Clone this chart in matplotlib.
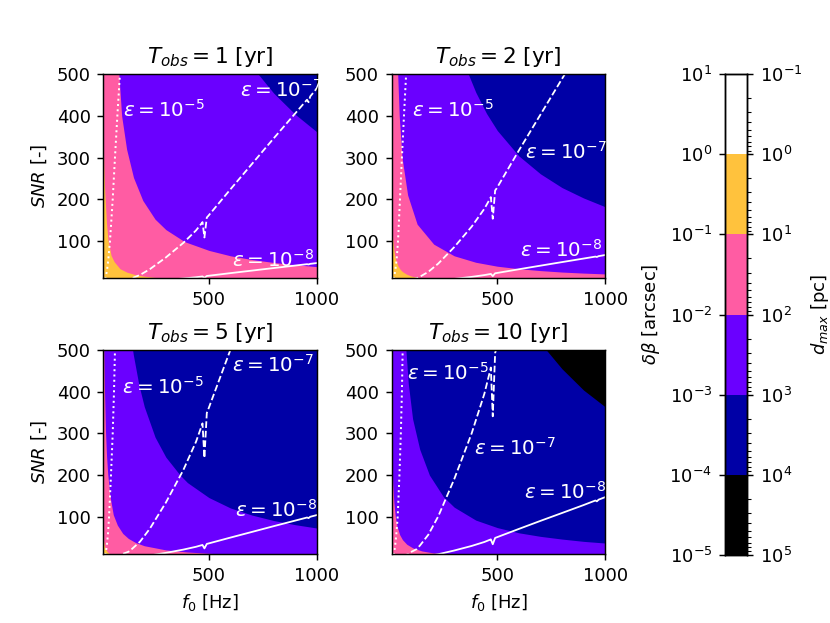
import matplotlib
matplotlib.use('Agg')
import matplotlib.pyplot as plt
from matplotlib.ticker import NullLocator, NullFormatter
import numpy as np

plt.rcParams['font.size'] = 10

# observation times of the four panels [yr]
T_obs = [1, 2, 5, 10]

# delta beta contour levels [arcsec] and the band colours (gnuplot2-like)
levels = [1e-5, 1e-4, 1e-3, 1e-2, 1e-1, 1e0, 1e1]
level_colors = ['#000000', '#0000a6', '#6a00ff', '#ff5ca3', '#ffc23d', '#ffffff']

# region boundaries (f0 [Hz], SNR)
# T = 1 yr
p1_b1_f = [10, 12, 15, 19, 25, 32, 46, 60, 87, 120, 160, 200, 250, 300, 400, 1000]
p1_b1_snr = [330, 280, 235, 195, 140, 100, 65, 50, 33, 24.5, 18.5, 15, 12, 10, 7.5, 3]
p1_b2_f = [76, 82, 95, 118, 150, 193, 250, 300, 387, 500, 600, 700, 800, 900, 1000]
p1_b2_snr = [530, 500, 400, 320, 252, 197, 152, 127, 98, 77, 64, 55, 48, 42.5, 38]
p1_b3_f = [700, 729, 800, 900, 1000]
p1_b3_snr = [520, 500, 455, 404, 362]

# T = 2 yr
p2_b1_f = [10, 12, 15, 20, 25, 30, 40, 50, 60, 80, 100, 130, 160, 300, 1000]
p2_b1_snr = [155, 130, 103, 78, 62, 52, 39, 31, 26, 19.5, 15.5, 12, 9.7, 5.2, 1.6]
p2_b2_f = [34, 38, 45, 58, 84, 128, 205, 300, 400, 500, 600, 700, 800, 900, 1000]
p2_b2_snr = [530, 500, 400, 300, 210, 140, 92, 64, 48.5, 39, 33, 28.5, 25, 22.5, 20.5]
p2_b3_f = [350, 366, 400, 450, 500, 600, 700, 800, 900, 1000]
p2_b3_snr = [523, 500, 457, 406, 365, 304, 261, 228, 203, 182]

# T = 5 yr
p3_b1_f = [10, 15, 20, 27, 35, 45, 1000]
p3_b1_snr = [45, 30, 22.5, 16.7, 12.9, 10, 0.45]
p3_b2_f = [10, 12, 15, 20, 25, 30, 40, 56, 75, 100, 126, 160, 200, 300, 400, 500, 600, 1000]
p3_b2_snr = [620, 510, 410, 305, 245, 205, 152, 105, 80, 60, 48, 38, 30.5, 20.5, 15.5, 12.3, 10.2, 6.2]
p3_b3_f = [140, 149, 175, 200, 250, 300, 366, 400, 500, 600, 700, 800, 900, 1000]
p3_b3_snr = [520, 489, 416, 364, 291, 243, 200, 182, 146, 121, 104, 91, 81, 73]

# T = 10 yr
p4_b1_f = [10, 15, 20, 30, 1000]
p4_b1_snr = [20, 13.3, 10, 6.7, 0.2]
p4_b2_f = [10, 12, 15, 20, 27, 35, 47, 60, 80, 109, 150, 200, 270, 400, 1000]
p4_b2_snr = [270, 225, 180, 135, 100, 77, 57, 45, 34, 25, 18, 13.5, 10, 6.7, 2.7]
p4_b3_f = [72, 76, 87, 107, 140, 185, 250, 300, 400, 500, 600, 700, 800, 900, 1000]
p4_b3_snr = [530, 500, 420, 335, 262, 200, 148, 123, 92, 74, 61.5, 53, 46.5, 41, 37]
p4_b4_f = [700, 729, 800, 900, 1000]
p4_b4_snr = [520, 499, 455, 404, 364]

# epsilon = 1e-5 curves (dotted)
p1_e5_f = [19, 22, 27, 33, 41, 53.5, 64, 75, 87, 89]
p1_e5_snr = [8, 16, 28, 55, 100, 200, 300, 400, 500, 520]
p2_e5_f = [19, 22, 27, 33, 39.5, 48.5, 57.5, 67, 77, 79]
p2_e5_snr = [8, 16, 30, 55, 100, 200, 300, 400, 500, 520]
p3_e5_f = [19, 22, 26, 31, 36.5, 45.5, 53.5, 59.5, 64, 65]
p3_e5_snr = [8, 16, 30, 55, 100, 200, 300, 400, 500, 520]
p4_e5_f = [19, 22, 26, 31, 38, 46, 52.5, 57.5, 61, 62]
p4_e5_snr = [8, 16, 30, 55, 100, 200, 300, 400, 500, 520]

# epsilon = 1e-7 (dashed) and 1e-8 (solid) curves
eps_f = [60, 87, 95, 126, 142, 180, 226, 300, 381, 440, 466, 470, 479, 490, 497,
         600, 700, 800, 900, 955, 962, 970, 1000]
p1_e7_snr = [2, 3.2, 4.5, 7.1, 10, 18, 32, 60, 95, 125, 142, 145, 108, 156, 160,
             224, 285, 346, 406, 439, 433, 447, 466]
p2_e7_snr = [2.8, 4.5, 6.4, 10.0, 14.1, 25.5, 45.3, 84.8, 134, 177, 201, 205, 153, 221, 226,
             317, 403, 489, 574, 621, 612, 632, 659]
p3_e7_snr = [4.5, 7.2, 10.1, 15.9, 22.4, 40.2, 71.6, 134, 212, 280, 318, 324, 241, 349, 358,
             501, 637, 774, 908, 982, 968, 1000, 1042]
p4_e7_snr = [6.3, 10.1, 14.2, 22.4, 31.6, 56.9, 101, 190, 300, 395, 449, 458, 341, 493, 506,
             708, 901, 1094, 1284, 1388, 1369, 1413, 1473]
p1_e8_snr = [0.2, 0.32, 0.45, 0.71, 1.0, 1.8, 3.2, 6.0, 9.5, 12.5, 14.2, 14.5, 10.8, 15.6, 16.0,
             22.4, 28.5, 34.6, 40.6, 43.9, 43.3, 44.7, 46.6]
p2_e8_snr = [0.28, 0.45, 0.64, 1.0, 1.41, 2.55, 4.53, 8.48, 13.4, 17.7, 20.1, 20.5, 15.3, 22.1, 22.6,
             31.7, 40.3, 48.9, 57.4, 62.1, 61.2, 63.2, 65.9]
p3_e8_snr = [0.45, 0.72, 1.01, 1.59, 2.24, 4.02, 7.16, 13.4, 21.2, 28.0, 31.8, 32.4, 24.1, 34.9, 35.8,
             50.1, 63.7, 77.4, 90.8, 98.2, 96.8, 100, 104]
p4_e8_snr = [0.63, 1.01, 1.42, 2.24, 3.16, 5.69, 10.1, 19.0, 30.0, 39.5, 44.9, 45.8, 34.1, 49.3, 50.6,
             70.8, 90.1, 109, 128, 139, 137, 141, 147]

# label anchor points (f0, SNR) for eps = 1e-5, 1e-7, 1e-8
label_pos = [
    [(100, 414), (644, 462), (605, 54)],
    [(103, 414), (629, 314), (605, 78)],
    [(95, 412), (605, 464), (621, 116)],
    [(83, 446), (392, 266), (624, 160)],
]
eps_labels = [r'$\varepsilon = 10^{-5}$', r'$\varepsilon = 10^{-7}$', r'$\varepsilon = 10^{-8}$']

panels = [
    {'bounds': [(p1_b1_f, p1_b1_snr), (p1_b2_f, p1_b2_snr), (p1_b3_f, p1_b3_snr)],
     'e5': (p1_e5_f, p1_e5_snr), 'e7': p1_e7_snr, 'e8': p1_e8_snr},
    {'bounds': [(p2_b1_f, p2_b1_snr), (p2_b2_f, p2_b2_snr), (p2_b3_f, p2_b3_snr)],
     'e5': (p2_e5_f, p2_e5_snr), 'e7': p2_e7_snr, 'e8': p2_e8_snr},
    {'bounds': [(p3_b1_f, p3_b1_snr), (p3_b2_f, p3_b2_snr), (p3_b3_f, p3_b3_snr)],
     'e5': (p3_e5_f, p3_e5_snr), 'e7': p3_e7_snr, 'e8': p3_e8_snr},
    {'bounds': [(p4_b1_f, p4_b1_snr), (p4_b2_f, p4_b2_snr), (p4_b3_f, p4_b3_snr), (p4_b4_f, p4_b4_snr)],
     'e5': (p4_e5_f, p4_e5_snr), 'e7': p4_e7_snr, 'e8': p4_e8_snr},
]

fig = plt.figure(figsize=(830 / 130, 623 / 130), dpi=130)
ax_pos = [
    [0.1245, 0.5533, 0.2571, 0.3274],
    [0.4719, 0.5533, 0.2571, 0.3274],
    [0.1245, 0.1103, 0.2571, 0.3279],
    [0.4719, 0.1103, 0.2571, 0.3279],
]

for k, p in enumerate(panels):
    ax = fig.add_axes(ax_pos[k])
    # base colour: 1e-1 .. 1e0 band (yellow)
    ax.set_facecolor(level_colors[4])
    ci = 3
    for bf, bs in p['bounds']:
        ax.fill_between(bf, bs, 600, color=level_colors[ci], lw=0)
        ci -= 1

    f5, s5 = p['e5']
    ax.plot(f5, s5, color='white', ls=':', lw=1.1)
    ax.plot(eps_f, p['e7'], color='white', ls='--', lw=1.0)
    ax.plot(eps_f, p['e8'], color='white', ls='-', lw=1.0)

    for (x, y), lab in zip(label_pos[k], eps_labels):
        ax.text(x, y, lab, color='white', ha='left', va='center', fontsize=11)

    ax.set_xlim(10, 1000)
    ax.set_ylim(10, 500)
    ax.set_xticks([500, 1000])
    ax.set_yticks([100, 200, 300, 400, 500])
    ax.set_title(r'$T_{obs} = %d$ [yr]' % T_obs[k])
    if k % 2 == 0:
        ax.set_ylabel(r'$SNR$ [-]')
    if k >= 2:
        ax.set_xlabel(r'$f_0$ [Hz]')

# colour bar with both scales
cax = fig.add_axes([0.8735, 0.1091, 0.0265, 0.7721])
for i in range(6):
    cax.axhspan(levels[i], levels[i + 1], color=level_colors[i], lw=0)
cax.set_yscale('log')
cax.set_ylim(levels[0], levels[-1])
cax.set_xlim(0, 1)
cax.xaxis.set_visible(False)
cax.yaxis.set_minor_locator(NullLocator())
cax.set_ylabel(r'$\delta\beta$ [arcsec]')

cax2 = cax.twinx()
cax2.set_yscale('log')
cax2.set_ylim(1e5, 1e-1)
cax2.xaxis.set_visible(False)
cax2.yaxis.set_minor_formatter(NullFormatter())
cax2.set_ylabel(r'$d_{max}$ [pc]')

fig.savefig('out.png', dpi=130)
